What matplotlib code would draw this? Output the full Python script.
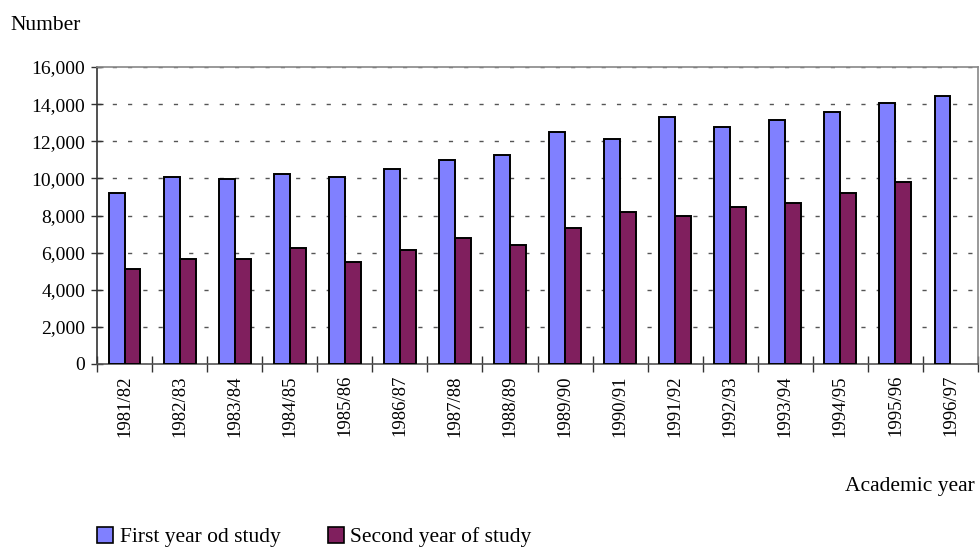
import matplotlib
matplotlib.use("Agg")
import matplotlib.pyplot as plt
import numpy as np
from matplotlib.patches import Patch

years = ["1981/82", "1982/83", "1983/84", "1984/85", "1985/86", "1986/87",
         "1987/88", "1988/89", "1989/90", "1990/91", "1991/92", "1992/93",
         "1993/94", "1994/95", "1995/96", "1996/97"]
first_year = [9200, 10050, 9950, 10250, 10050, 10500, 11000, 11250,
              12500, 12100, 13300, 12750, 13150, 13600, 14050, 14450]
second_year = [5100, 5650, 5650, 6250, 5500, 6150, 6800, 6400,
               7350, 8200, 8000, 8450, 8650, 9200, 9800, None]
y_ticks = [0, 2000, 4000, 6000, 8000, 10000, 12000, 14000, 16000]

plt.rcParams["font.family"] = ["Liberation Serif", "DejaVu Serif"]
blue = "#8080FF"
maroon = "#801F5E"

fig = plt.figure(figsize=(9.8, 5.48), dpi=100)
ax = fig.add_axes([97 / 980, 1 - 364 / 548, (978 - 97) / 980, (364 - 67) / 548])

x = np.arange(len(years))
w = 0.29
ax.bar(x - w / 2, first_year, width=w, color=blue, edgecolor="black",
       linewidth=1.4, zorder=3)
sx = [xi for xi, v in zip(x, second_year) if v is not None]
sv = [v for v in second_year if v is not None]
ax.bar(np.array(sx) + w / 2, sv, width=w, color=maroon, edgecolor="black",
       linewidth=1.4, zorder=3)

ax.set_xlim(-0.5, len(years) - 0.5)
ax.set_ylim(0, 16000)
ax.set_yticks(y_ticks)
ax.set_yticklabels([f"{v:,}" for v in y_ticks], fontsize=14)
ax.yaxis.grid(True, linestyle=(0, (3, 8)), color="#555555", linewidth=1.0, zorder=0)

ax.set_xticks(x)
ax.set_xticklabels(years, rotation=90, fontsize=13.5)
ax.tick_params(axis="x", length=0, pad=8)
ax.set_xticks(np.arange(-0.5, len(years)), minor=True)
ax.tick_params(axis="x", which="minor", direction="inout", length=11, width=1.0, color="#333333")
ax.tick_params(axis="y", direction="inout", length=9, width=1.0, color="#333333", pad=4)

for side in ("top", "right"):
    ax.spines[side].set_color("#888888")
    ax.spines[side].set_linewidth(1.2)
ax.spines["left"].set_color("#333333")
ax.spines["bottom"].set_color("#555555")
ax.spines["left"].set_linewidth(1.2)
ax.spines["bottom"].set_linewidth(1.2)

fig.text(10 / 980, 1 - 26 / 548, "Number", fontsize=15.5, va="center", ha="left")
fig.text(975 / 980, 1 - 486 / 548, "Academic year", fontsize=15.5, va="center", ha="right")

handles = [Patch(facecolor=blue, edgecolor="black", linewidth=1.2),
           Patch(facecolor=maroon, edgecolor="black", linewidth=1.2)]
fig.legend(handles, ["First year od study", "Second year of study"],
           loc="center left", bbox_to_anchor=(97 / 980, 1 - 537 / 548),
           ncol=2, frameon=False, fontsize=15.5, handlelength=0.75,
           handleheight=0.75, handletextpad=0.3, columnspacing=2.2,
           borderaxespad=0, borderpad=0)

fig.savefig("out.png", dpi=100)
